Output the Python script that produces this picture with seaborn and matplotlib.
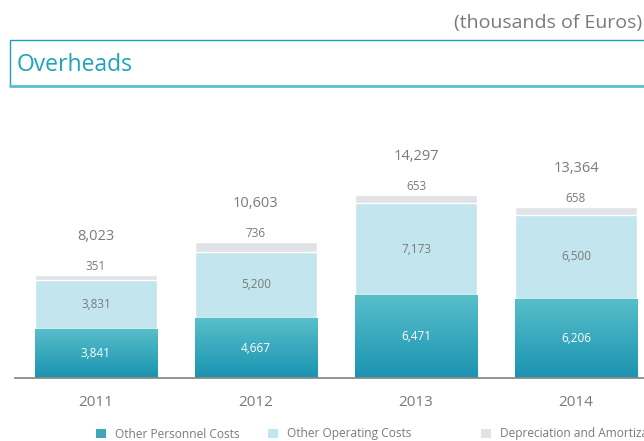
import numpy as np
import pandas as pd
import matplotlib
matplotlib.use("Agg")
import matplotlib.pyplot as plt
import seaborn as sns
from matplotlib.patches import Patch, Rectangle
from matplotlib.lines import Line2D
from matplotlib.colors import LinearSegmentedColormap

# ---- data ----
years = ["2011", "2012", "2013", "2014"]
personnel = [3841, 4667, 6471, 6206]
operating = [3831, 5200, 7173, 6500]
depreciation = [351, 736, 653, 658]
totals = [8023, 10603, 14297, 13364]
series_labels = ["Other Personnel Costs", "Other Operating Costs", "Depreciation and Amortization"]

# ---- style ----
sns.set_theme(style="white")
plt.rcParams["font.family"] = ["Open Sans", "DejaVu Sans"]

GRAY = "#7a7a7a"
TEAL = "#1ea3bb"
C_PERS = "#3fa6bd"
C_OPER = "#c3e5ee"
C_DEP = "#e1e2e6"

W, H = 644, 441
fig = plt.figure(figsize=(W / 100, H / 100), dpi=100)
ax = fig.add_axes([15 / W, 1 - 378 / H, (W - 15) / W, 278 / H])

df = pd.DataFrame({
    "year": years,
    "pers": personnel,
    "pers_oper": np.array(personnel) + np.array(operating),
    "total": np.array(personnel) + np.array(operating) + np.array(depreciation),
})

bw = 0.7625
sns.barplot(data=df, x="year", y="total", color=C_DEP, saturation=1, width=bw, ax=ax)
sns.barplot(data=df, x="year", y="pers_oper", color=C_OPER, saturation=1, width=bw, ax=ax)
sns.barplot(data=df, x="year", y="pers", color=C_PERS, saturation=1, width=bw, ax=ax)

# gradient on personnel bars
cmap = LinearSegmentedColormap.from_list("tealgrad", ["#1a93b1", "#58bfca"])
grad = np.linspace(0, 1, 256).reshape(-1, 1)
for p in ax.containers[-1]:
    x0, y0 = p.get_x(), p.get_y()
    w, h = p.get_width(), p.get_height()
    im = ax.imshow(grad, extent=[x0, x0 + w, y0, y0 + h], origin="lower",
                   aspect="auto", cmap=cmap, zorder=p.get_zorder() + 0.1)
    im.set_clip_path(p)

ax.set_xlim(-0.506, 3.425)
ax.set_ylim(0, 21720)

for i in range(len(years)):
    t = totals[i]
    ax.annotate(f"{t:,}", (i, t), xytext=(0, 28), textcoords="offset points",
                ha="center", va="center", fontsize=10.5, color=GRAY)
    ax.annotate(f"{depreciation[i]:,}", (i, t), xytext=(0, 6), textcoords="offset points",
                ha="center", va="center", fontsize=8.5, color=GRAY)
    ax.text(i, personnel[i] + operating[i] / 2, f"{operating[i]:,}", ha="center", va="center",
            fontsize=8.5, color=GRAY, zorder=10)
    ax.text(i, personnel[i] / 2, f"{personnel[i]:,}", ha="center", va="center",
            fontsize=8.5, color="white", zorder=10)

ax.set_xlabel("")
ax.set_ylabel("")
ax.set_yticks([])
ax.tick_params(axis="x", length=0, pad=12.5, labelsize=11, labelcolor=GRAY)
for s in ["top", "left", "right"]:
    ax.spines[s].set_visible(False)
ax.spines["bottom"].set_color("#8a8a8a")
ax.spines["bottom"].set_linewidth(1.3)
ax.patch.set_alpha(0)

# header
fig.text(642 / W, 1 - 23 / H, "(thousands of Euros)", ha="right", va="center",
         fontsize=14, color=GRAY)
fig.patches.append(Rectangle((10 / W, 1 - 86 / H), 1.0, 46 / H, transform=fig.transFigure,
                             fill=False, edgecolor="#1ba1b9", linewidth=1.0))
fig.lines.append(Line2D([10 / W, 1.0], [1 - 86 / H, 1 - 86 / H], transform=fig.transFigure,
                        color="#5cc0cf", linewidth=2.0))
fig.text(17 / W, 1 - 65 / H, "Overheads", ha="left", va="center", fontsize=16.5, color=TEAL)

# legend (three entries at their own positions, top-aligned)
leg_x = [96, 268, 481]
leg_colors = [C_PERS, C_OPER, C_DEP]
for x, c, lab in zip(leg_x, leg_colors, series_labels):
    fig.legend(handles=[Patch(facecolor=c, edgecolor="none")], labels=[lab],
               loc="upper left", bbox_to_anchor=(x / W, 1 - 427.5 / H),
               frameon=False, handlelength=0.85, handleheight=0.85,
               handletextpad=0.75, borderpad=0, borderaxespad=0,
               fontsize=8.6, labelcolor=GRAY)

fig.savefig("out.png", dpi=100)
